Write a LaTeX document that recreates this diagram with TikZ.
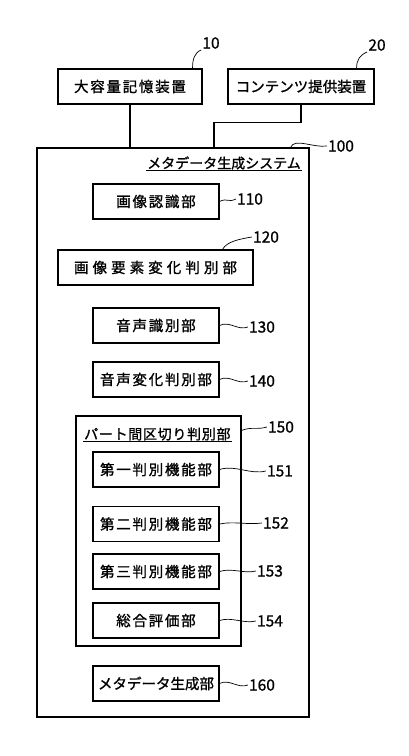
\documentclass[tikz,border=0pt]{standalone}
\usepackage{fontspec}
\setmainfont{Noto Sans CJK JP}[LetterSpace=12, FakeBold=1.2]
\newfontfamily\numfont{Noto Sans CJK JP}[FakeBold=1]
\usetikzlibrary{positioning}

\begin{document}
\begin{tikzpicture}[x=1pt, y=1pt,
  unit/.style={draw, line width=1.1pt, minimum width=126pt, minimum height=35pt, inner sep=0pt, font=\fontsize{14.5}{16}\selectfont},
  frame/.style={draw, line width=1.1pt, inner sep=0pt},
  head/.style={inner sep=1pt, font=\fontsize{14}{16}\selectfont},
  tag/.style={inner sep=1pt, font=\numfont\fontsize{15.5}{17}\selectfont},
  lead/.style={line width=0.7pt},
  wire/.style={line width=1.1pt}
]
\useasboundingbox (0,0) rectangle (409,-756);
% devices outside the system
\node[unit, minimum width=144pt] (storage) at (130,-86.5) {大容量記憶装置};
\node[unit, minimum width=146pt] (provider) at (301,-86.5) {\addfontfeature{LetterSpace=0}コンテンツ提供装置};
\node[tag] (n10) at (211,-43) {10};
\node[tag] (n20) at (377,-45) {20};
\draw[lead] ([xshift=-10pt]storage.north east) .. controls +(0,9) and +(-7,-3) .. (n10.south west);
\draw[lead] ([xshift=-18pt]provider.north east) .. controls +(0,9) and +(-7,-3) .. (n20.south west);

% metadata generation system
\node[frame, minimum width=272pt, minimum height=569pt] (system) at (173,-432.5) {};
\node[head, anchor=east] (systitle) at (302,-163) {\addfontfeature{LetterSpace=0}メタデータ生成システム};
\draw[line width=0.8pt] (systitle.south west) -- (systitle.south east);
\node[tag] (n100) at (341,-146) {100};
\draw[lead] ([xshift=-19pt]system.north east) .. controls +(4,10) and +(-14,-2) .. (n100.west);

\coordinate (feed) at (214,-148);
\draw[wire] (storage.south) -- (storage.south |- system.north);
\draw[wire] (provider.south) -- ++(0,-18) -| (feed);

\node[unit] (imgrec) at (156,-201.5) {画像認識部};
\node[unit, minimum width=195pt] (imgchg) at (155.5,-267.5) {\addfontfeature{LetterSpace=28}画像要素変化判別部};
\node[unit] (sndrec) at (156,-325.5) {音声識別部};
\node[unit] (sndchg) at (156,-379.5) {音声変化判別部};
\node[tag] (n110) at (250,-199) {110};
\node[tag] (n120) at (266,-237) {120};
\node[tag] (n130) at (262,-327) {130};
\node[tag] (n140) at (262,-381) {140};
\draw[lead] (imgrec.east) .. controls +(8,4) and +(-8,-4) .. (n110.west);
\draw[lead] ([xshift=-31pt]imgchg.north east) .. controls +(4,8) and +(-12,-2) .. (n120.west);
\draw[lead] (sndrec.east) .. controls +(10,5) and +(-10,-4) .. (n130.west);
\draw[lead] (sndchg.east) .. controls +(10,5) and +(-10,-4) .. (n140.west);

% part boundary judgement
\node[frame, minimum width=165pt, minimum height=230pt] (partdiv) at (158.5,-531) {};
\node[head, anchor=west] (parttitle) at (83,-434) {\addfontfeature{LetterSpace=5}パート間区切り判別部};
\draw[line width=0.8pt] (parttitle.south west) -- (parttitle.south east);
\node[tag] (n150) at (281,-427) {150};
\draw[lead] ([yshift=-15pt]partdiv.north east) .. controls +(10,4) and +(-10,-3) .. (n150.west);

\node[unit] (judge1) at (156,-469.5) {第一判別機能部};
\node[unit] (judge2) at (156,-524) {第二判別機能部};
\node[unit] (judge3) at (156,-571.5) {第三判別機能部};
\node[unit] (overall) at (156,-620.5) {総合評価部};
\node[tag] (n151) at (280,-471) {151};
\node[tag] (n152) at (276,-523) {152};
\node[tag] (n153) at (270,-571) {153};
\node[tag] (n154) at (270,-621) {154};
\draw[lead] (judge1.east) .. controls +(16,5) and +(-16,-4) .. (n151.west);
\draw[lead] (judge2.east) .. controls +(14,3) and +(-14,-2) .. (n152.west);
\draw[lead] (judge3.east) .. controls +(12,4) and +(-12,-3) .. (n153.west);
\draw[lead] (overall.east) .. controls +(12,4) and +(-12,-3) .. (n154.west);

\node[unit] (metagen) at (156,-683.5) {\addfontfeature{LetterSpace=0}メタデータ生成部};
\node[tag] (n160) at (262,-685) {160};
\draw[lead] (metagen.east) .. controls +(10,5) and +(-10,-4) .. (n160.west);
\end{tikzpicture}
\end{document}
